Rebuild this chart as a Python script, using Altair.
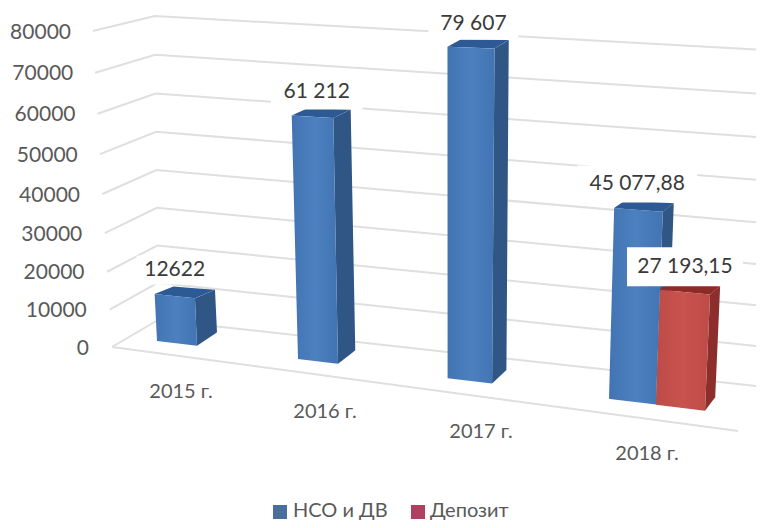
import altair as alt
import pandas as pd
import numpy as np

# ---- chart values ----
years = ["2015 г.", "2016 г.", "2017 г.", "2018 г."]
series_names = ["НСО и ДВ", "Депозит"]
nso_values = [12622, 61212, 79607, 45077.88]
nso_labels = ["12622", "61 212", "79 607", "45 077,88"]
dep_values = [27193.15]
dep_labels = ["27 193,15"]
axis_ticks = [0, 10000, 20000, 30000, 40000, 50000, 60000, 70000, 80000]

# ---- layout of the tilted 3-D box (image pixels) ----
W, H = 748, 512
FONT = "Lato"
bar_x0 = [157, 298, 447.6, 609]
bar_w = [40, 40, 44.5, 47]
dep_x0, dep_w = 656, 49
label_off = [(20, -24), (25, -24), (26, -23), (23, -24)]
box_half = [(38, 14.5), (46, 18), (45, 16), (60, 18.5)]
dep_off = (25, -23)
dep_box = (58, 19.5)
year_pos = [(181, 392), (325, 412), (481, 432), (647, 454)]
BLUE = ["#4274b3", "#4c80bf", "#4274b3"]
RED = ["#bd4b47", "#c9534e", "#bd4b47"]


def height_at(x, v):
    u = v / 10000
    return (36.9 + 0.0095 * (x - 157)) * u + 0.25 * u * u


def lean(x):
    return (x - 450) * 0.00017


def depth(x):
    return 20 - (x - 197) * 0.0193


def bar_faces(x0, w, v):
    y0 = 341 + 0.128 * (x0 - 157)
    x1 = x0 + w
    y1 = y0 + 0.12 * w
    hl, hr = height_at(x0, v), height_at(x1, v)
    tl = (x0 + hl * lean(x0), y0 - hl)
    tr = (x1 + hr * lean(x1), y1 - hr)
    br = (x1, y1)
    bl = (x0, y0)
    br_b = (x1 + depth(x1), y1 - 13.5)
    tr_b = (tr[0] + depth(tr[0]), tr[1] - 8.5)
    tl_b = (tl[0] + depth(tl[0]) * 0.9, tl[1] - 7.5)
    return dict(front=[bl, br, tr, tl], side=[br, br_b, tr_b, tr], top=[tl, tr, tr_b, tl_b]), tl


def polygon_rows(pts):
    """Turn a convex polygon into x / y / y2 rows of an area mark."""
    px = sorted(set(p[0] for p in pts))
    n = len(pts)
    rows = []
    for x in px:
        py = []
        for i in range(n):
            a, b = pts[i], pts[(i + 1) % n]
            lo, hi = min(a[0], b[0]), max(a[0], b[0])
            if lo <= x <= hi:
                if a[0] == b[0]:
                    py += [a[1], b[1]]
                else:
                    py.append(a[1] + (b[1] - a[1]) * (x - a[0]) / (b[0] - a[0]))
        rows.append(dict(x=float(x), y=float(min(py)), y2=float(max(py))))
    return rows


xs = alt.X("x:Q", scale=alt.Scale(domain=[8, 8 + W], nice=False, zero=False), axis=None)
ys = alt.Y("y:Q", scale=alt.Scale(domain=[8 + H, 8], nice=False, zero=False), axis=None)


def area_layer(pts, fill):
    df = pd.DataFrame(polygon_rows(pts))
    return alt.Chart(df).mark_area(color=fill, interpolate="linear", orient="vertical").encode(xs, ys, y2="y2:Q")


def gradient(stops):
    return alt.Gradient(
        gradient="linear", x1=0, x2=1, y1=0, y2=0,
        stops=[alt.GradientStop(offset=o, color=c) for o, c in zip([0, 0.5, 1], stops)],
    )


layers = []

# ---- gridlines: left wall, then back wall ----
RIGHT = 8 + W
grid_rows = []
for t in axis_ticks:
    u = t / 10000
    fx, fy = 112 - 2.4 * u, 347 - 37 * u - 0.3125 * u * u
    cx, cy = 158 - 0.4 * u, 320 - 37 * u - 0.125 * u * u
    ry = 387 - 39.9 * u - 0.28 * u * u
    endy = cy + (ry - cy) * (RIGHT - cx) / (764 - cx)
    for k, (px, py) in enumerate([(fx, fy), (cx, cy), (RIGHT, endy)]):
        grid_rows.append(dict(tick=t, k=k, x=px, y=py))
grid_rows += [dict(tick=-1, k=0, x=112, y=347), dict(tick=-1, k=1, x=738, y=431)]
layers.append(
    alt.Chart(pd.DataFrame(grid_rows)).mark_line(color="#e0dede", strokeWidth=2)
    .encode(xs, ys, detail="tick:N", order="k:Q")
)

# ---- bars ----
label_rows, box_rows = [], []
def add_bar(x0, w, v, text, off, half, stops, side, top):
    faces, tl = bar_faces(x0, w, v)
    layers.append(area_layer(faces["side"], side))
    layers.append(area_layer(faces["top"], top))
    layers.append(area_layer(faces["front"], gradient(stops)))
    cx, cy = tl[0] + off[0], tl[1] + off[1]
    label_rows.append(dict(x=cx, y=cy, text=text))
    box_rows.append(dict(x=cx - half[0], x2=cx + half[0], y=cy - half[1], y2=cy + half[1]))


for i in range(4):
    add_bar(bar_x0[i], bar_w[i], nso_values[i], nso_labels[i], label_off[i], box_half[i], BLUE, "#2f5685", "#2d5a94")
add_bar(dep_x0, dep_w, dep_values[0], dep_labels[0], dep_off, dep_box, RED, "#8c2f2c", "#8c2b28")

layers.append(
    alt.Chart(pd.DataFrame(box_rows)).mark_rect(color="white").encode(xs, ys, x2="x2:Q", y2="y2:Q")
)
layers.append(
    alt.Chart(pd.DataFrame(label_rows)).mark_text(font=FONT, fontSize=21, color="#3a3a3a", align="center", baseline="middle")
    .encode(xs, ys, text="text:N")
)

# ---- axis tick labels ----
tick_rows = [
    dict(x=89 - 2.25 * (t / 10000), y=348.5 - 37 * (t / 10000) - 0.3125 * (t / 10000) ** 2, text=str(t))
    for t in axis_ticks
]
layers.append(
    alt.Chart(pd.DataFrame(tick_rows)).mark_text(font=FONT, fontSize=21, color="#595959", align="right", baseline="middle")
    .encode(xs, ys, text="text:N")
)

# ---- category labels ----
year_rows = [dict(x=p[0], y=p[1], text=t) for p, t in zip(year_pos, years)]
layers.append(
    alt.Chart(pd.DataFrame(year_rows)).mark_text(font=FONT, fontSize=20, color="#595959", align="center", baseline="middle")
    .encode(xs, ys, text="text:N")
)

# ---- legend (the page margin stops it from sitting any lower) ----
legend_swatches = pd.DataFrame([
    dict(x=273, x2=287, y=505, y2=519, c="#4a6f9c"),
    dict(x=411, x2=425, y=505, y2=519, c="#b04060"),
])
layers.append(
    alt.Chart(legend_swatches).mark_rect().encode(xs, ys, x2="x2:Q", y2="y2:Q", color=alt.Color("c:N", scale=None))
)
legend_text = pd.DataFrame([
    dict(x=293, y=511, text=series_names[0]),
    dict(x=430, y=511, text=series_names[1]),
])
layers.append(
    alt.Chart(legend_text).mark_text(font=FONT, fontSize=20, color="#595959", align="left", baseline="middle")
    .encode(xs, ys, text="text:N")
)

chart = (
    alt.layer(*layers)
    .properties(width=W, height=H, padding=0, autosize=alt.AutoSizeParams(type="none"))
    .configure_view(stroke=None)
)
chart.save("out.html", embed_options={"renderer": "svg", "actions": False})
